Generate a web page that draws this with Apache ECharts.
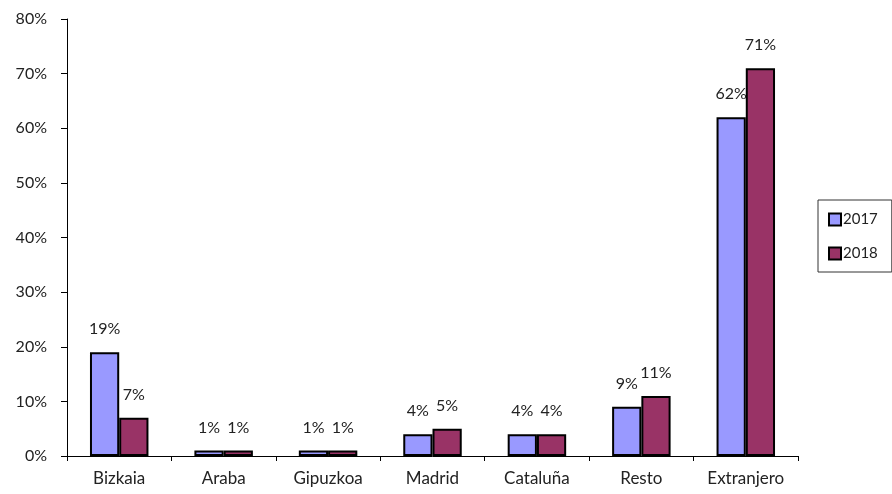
<!DOCTYPE html>
<html><head><meta charset="utf-8">
<script src="https://cdn.jsdelivr.net/npm/echarts@6/dist/echarts.min.js"></script>
<style>html,body{margin:0;padding:0;background:#fff}#c{width:892px;height:494px}</style>
</head><body><div id="c"></div>
<script>
const categories = ["Bizkaia","Araba","Gipuzkoa","Madrid","Cataluña","Resto","Extranjero"];
const values2017 = [19,1,1,4,4,9,62];
const values2018 = [7,1,1,5,4,11,71];
const yTicks = [0,10,20,30,40,50,60,70,80];
const FONT = "Lato";
const chart = echarts.init(document.getElementById('c'));
const lbl = {show:true, position:'top', distance:15, formatter:'{c}%', color:'#222', fontSize:16, fontFamily:FONT};
chart.setOption({
  animation:false,
  textStyle:{fontFamily:FONT},
  grid:{left:67, right:94, top:19, bottom:38},
  legend:{
    orient:'vertical', left:818, top:200,
    padding:[12,14,11,10], itemGap:19,
    borderColor:'#333', borderWidth:1,
    itemWidth:12, itemHeight:12,
    textStyle:{fontSize:15, color:'#222', fontFamily:FONT, padding:[0,0,0,-3]},
    data:[{name:'2017',icon:'rect'},{name:'2018',icon:'rect'}]
  },
  xAxis:{type:'category', data:categories,
    axisLine:{lineStyle:{color:'#000',width:1}},
    axisTick:{show:true, length:5, inside:false, lineStyle:{color:'#000'}},
    axisLabel:{color:'#222', fontSize:17, margin:14, fontFamily:FONT}},
  yAxis:{type:'value', min:0, max:80, interval:10,
    axisLine:{show:true, lineStyle:{color:'#000'}},
    axisTick:{show:true, length:6, lineStyle:{color:'#000'}},
    splitLine:{show:false},
    axisLabel:{formatter:v=>v+'%', color:'#222', fontSize:16, margin:20, fontFamily:FONT}},
  series:[
    {name:'2017', type:'bar', data:values2017, barGap:'0%', barCategoryGap:'44%',
     itemStyle:{color:'#9999FF', borderColor:'#000', borderWidth:2}, label:lbl},
    {name:'2018', type:'bar', data:values2018, barGap:'0%', barCategoryGap:'44%',
     itemStyle:{color:'#993366', borderColor:'#000', borderWidth:2}, label:lbl}
  ]
});
</script></body></html>
